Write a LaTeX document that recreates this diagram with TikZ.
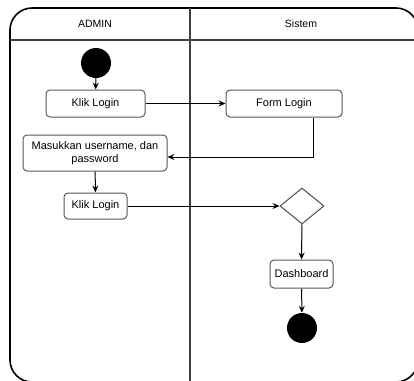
\documentclass[tikz,border=0pt]{standalone}
\usepackage{fontspec}
\setmainfont{Liberation Sans}
\usetikzlibrary{arrows.meta, shapes.geometric, positioning}

\begin{document}
\begin{tikzpicture}[x=1pt, y=-1pt,
    action/.style={draw=black!65, line width=1pt, rounded corners=4pt, fill=white, align=center, inner sep=0pt, font=\fontsize{11}{13}\selectfont},
    dot/.style={circle, fill=black, minimum size=30pt, inner sep=0pt},
    choice/.style={diamond, draw=black!70, line width=1pt, fill=white, minimum width=44pt, minimum height=36pt, inner sep=0pt},
    flow/.style={line width=1pt, -{Stealth[length=7pt, width=6pt, inset=2.5pt]}}]
    \useasboundingbox (0,0) rectangle (414,380);
    \clip (0,0) rectangle (414,380);
    % swimlanes
    \draw[line width=1.6pt, rounded corners=22pt] (10,8) rectangle (418,382);
    \draw[line width=1.2pt, black!75] (10,40) -- (418,40);
    \draw[line width=1.6pt, black!75] (190,8) -- (190,382);
    \node[font=\fontsize{10.5}{12}\selectfont] (admin) at (95,24) {ADMIN};
    \node[font=\fontsize{10.5}{12}\selectfont] (sistem) at (301,24) {Sistem};
    % nodes
    \node[dot] (start) at (96,63) {};
    \node[action, minimum width=99pt, minimum height=27pt] (klik1) at (95.5,103.5) {Klik Login};
    \node[action, minimum width=116pt, minimum height=27pt] (form) at (284,103.5) {Form Login};
    \node[action, minimum width=144pt, minimum height=36pt] (masuk) at (95,153) {Masukkan username, dan\\password};
    \node[action, minimum width=63pt, minimum height=26pt] (klik2) at (95.5,206) {Klik Login};
    \node[choice] (cek) at (302,206) {};
    \node[action, minimum width=63pt, minimum height=28pt] (dash) at (301.5,274) {Dashboard};
    \node[dot] (end) at (302,328) {};
    % flows
    \draw[flow] (start) -- (klik1);
    \draw[flow] (klik1) -- (form);
    \draw[flow] ([xshift=29pt]form.south) |- ([yshift=-4pt]masuk.east);
    \draw[flow] (masuk) -- (klik2);
    \draw[flow] (klik2) -- (cek);
    \draw[flow] (cek) -- (dash);
    \draw[flow] (dash) -- (end);
\end{tikzpicture}
\end{document}
